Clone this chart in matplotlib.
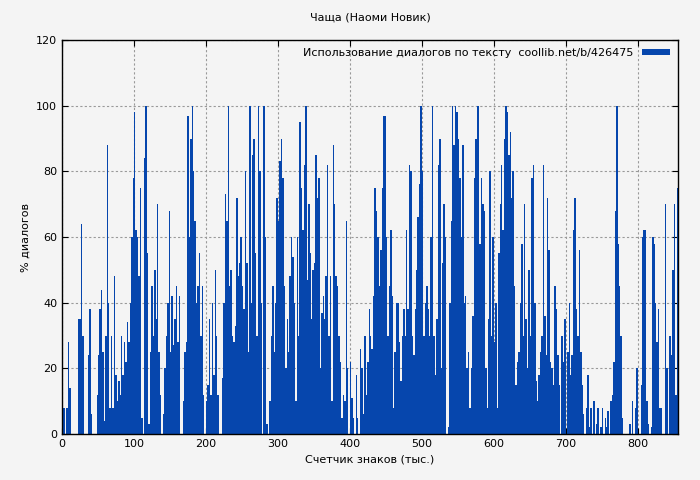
import numpy as np
import matplotlib
matplotlib.use("Agg")
import matplotlib.pyplot as plt

# % dialogue per 2k-character chunk
dialog_pct = [
    16, 8, 0, 8, 28, 14, 0, 0, 0, 0,
    0, 35, 35, 64, 30, 0, 0, 0, 24, 38,
    6, 0, 0, 0, 12, 24, 38, 44, 25, 4,
    30, 88, 40, 8, 30, 8, 48, 18, 10, 16,
    12, 30, 18, 28, 22, 34, 28, 40, 60, 78,
    98, 62, 60, 48, 75, 5, 0, 84, 100, 55,
    3, 25, 45, 30, 50, 35, 70, 25, 12, 0,
    6, 20, 30, 40, 68, 25, 42, 27, 35, 45,
    28, 42, 0, 0, 10, 25, 28, 97, 60, 90,
    100, 80, 65, 40, 45, 55, 30, 45, 12, 0,
    10, 15, 35, 12, 40, 18, 50, 30, 12, 0,
    0, 17, 40, 73, 65, 100, 45, 50, 30, 28,
    33, 72, 48, 52, 60, 45, 38, 80, 52, 25,
    100, 40, 85, 90, 55, 30, 100, 80, 40, 0,
    100, 60, 3, 0, 10, 30, 45, 25, 40, 72,
    65, 83, 90, 78, 45, 20, 35, 25, 48, 60,
    54, 40, 10, 60, 30, 95, 75, 62, 82, 100,
    47, 70, 55, 35, 50, 52, 85, 72, 78, 20,
    37, 42, 35, 48, 82, 30, 48, 10, 88, 70,
    48, 45, 30, 22, 5, 12, 10, 65, 20, 0,
    22, 11, 5, 0, 18, 5, 0, 26, 20, 6,
    30, 12, 22, 38, 30, 26, 42, 75, 68, 60,
    45, 56, 75, 97, 97, 60, 30, 45, 62, 42,
    8, 25, 40, 40, 28, 16, 30, 38, 30, 62,
    38, 82, 80, 30, 24, 38, 50, 66, 76, 100,
    80, 30, 40, 45, 38, 30, 60, 100, 30, 18,
    35, 82, 90, 20, 52, 70, 60, 0, 2, 40,
    65, 100, 88, 100, 98, 90, 78, 60, 88, 40,
    42, 20, 25, 8, 20, 36, 78, 90, 100, 100,
    58, 78, 70, 68, 20, 8, 35, 80, 30, 60,
    28, 40, 8, 55, 70, 82, 62, 90, 100, 98,
    85, 92, 72, 80, 45, 15, 22, 25, 40, 58,
    30, 70, 35, 20, 50, 30, 78, 82, 40, 16,
    10, 18, 25, 30, 82, 36, 24, 72, 56, 22,
    20, 15, 45, 38, 24, 15, 0, 30, 22, 35,
    0, 25, 40, 18, 24, 62, 72, 38, 30, 56,
    25, 15, 6, 0, 8, 18, 2, 8, 0, 10,
    0, 3, 8, 0, 2, 8, 0, 5, 2, 7,
    0, 10, 12, 22, 68, 100, 58, 45, 30, 5,
    0, 0, 0, 0, 3, 0, 10, 0, 8, 20,
    0, 0, 15, 60, 62, 62, 10, 3, 0, 2,
    60, 58, 40, 28, 38, 8, 8, 0, 0, 70,
    20, 0, 30, 24, 50, 70, 12, 75, 60, 65,
]
chunk_start = np.arange(len(dialog_pct)) * 2
x_ticks = [0, 100, 200, 300, 400, 500, 600, 700, 800]
y_ticks = [0, 20, 40, 60, 80, 100, 120]

plt.rcParams['font.family'] = ['DejaVu Sans']
plt.rcParams['font.size'] = 8

fig = plt.figure(figsize=(7, 4.8), dpi=100, facecolor='#f4f4f4')
ax = fig.add_axes([62 / 700, 46 / 480, 616 / 700, 394 / 480])
ax.set_facecolor('#f4f4f4')

ax.bar(chunk_start, dialog_pct, width=2, align='edge', color='#0646ad',
       linewidth=0, label='Использование диалогов по тексту  coollib.net/b/426475')

ax.set_xlim(0, 856)
ax.set_ylim(0, 120)
ax.set_xticks(x_ticks)
ax.set_yticks(y_ticks)
ax.grid(True, color='#999999', linestyle=(0, (2, 2)), linewidth=0.8)
ax.set_axisbelow(True)
ax.tick_params(direction='in', top=True, right=True, length=4)
for s in ax.spines.values():
    s.set_linewidth(1)

ax.set_title('Чаща (Наоми Новик)', fontsize=8, pad=14)
ax.set_xlabel('Счетчик знаков (тыс.)')
ax.set_ylabel('% диалогов')
ax.legend(loc='upper right', frameon=False, markerfirst=False,
          handlelength=2.5, handleheight=0.5, borderaxespad=0.3)

fig.savefig('out.png', dpi=100, facecolor=fig.get_facecolor())
